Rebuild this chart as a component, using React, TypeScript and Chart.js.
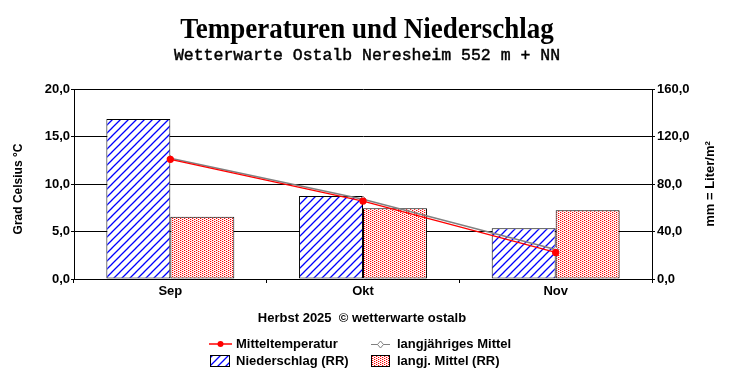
import React, { useEffect, useRef } from "react";
import { Chart, registerables } from "chart.js";

Chart.register(...registerables);

const categories = ["Sep", "Okt", "Nov"];
const tempMean = [12.6, 8.2, 2.8];
const tempLongTerm = [12.7, 8.4, 3.1];
const precip = [134.7, 69.9, 42.7];
const precipLongTerm = [52.5, 59.5, 57.8];

const titleText = "Temperaturen und Niederschlag";
const subtitleText = "Wetterwarte Ostalb Neresheim 552 m + NN";
const leftAxisTitle = "Grad Celsius °C";
const rightAxisTitle = "mm = Liter/m²";
const footText = "Herbst 2025  © wetterwarte ostalb";

const SANS = "'Liberation Sans', Arial, sans-serif";
const fmt = (v: number | string) => Number(v).toFixed(1).replace(".", ",");

function makeHatch(): CanvasPattern {
  const n = 8;
  const c = document.createElement("canvas");
  c.width = n;
  c.height = n;
  const g = c.getContext("2d")!;
  g.fillStyle = "#ffffff";
  g.fillRect(0, 0, n, n);
  g.strokeStyle = "#0000ff";
  g.lineWidth = 1.3;
  g.beginPath();
  g.moveTo(-1, n + 1);
  g.lineTo(n + 1, -1);
  g.moveTo(-n - 1, n + 1);
  g.lineTo(1, -1);
  g.moveTo(n - 1, n + 1);
  g.lineTo(2 * n + 1, -1);
  g.stroke();
  return g.createPattern(c, "repeat")!;
}

function makeDots(): CanvasPattern {
  const c = document.createElement("canvas");
  c.width = 4;
  c.height = 2;
  const g = c.getContext("2d")!;
  g.fillStyle = "#ffffff";
  g.fillRect(0, 0, 4, 2);
  g.fillStyle = "#ff0000";
  g.fillRect(0, 0, 1, 1);
  g.fillRect(2, 1, 1, 1);
  g.fillStyle = "rgba(255,0,0,0.25)";
  g.fillRect(1, 0, 1, 1);
  g.fillRect(3, 1, 1, 1);
  return g.createPattern(c, "repeat")!;
}

const decorPlugin = {
  id: "decor",
  afterDraw(chart: any) {
    const ctx: CanvasRenderingContext2D = chart.ctx;
    const ds = chart.data.datasets;
    ctx.save();
    ctx.fillStyle = "#000";
    ctx.textBaseline = "alphabetic";
    ctx.textAlign = "center";
    // title (condensed serif)
    ctx.save();
    ctx.translate(367, 38);
    ctx.scale(0.9, 1);
    ctx.font = "bold 30px 'Liberation Serif', 'Times New Roman', serif";
    ctx.fillText(titleText, 0, 0);
    ctx.restore();
    // subtitle
    ctx.font = "16.5px 'Liberation Mono', 'Courier New', monospace";
    ctx.strokeStyle = "#000";
    ctx.lineWidth = 0.45;
    ctx.fillText(subtitleText, 367, 60);
    ctx.strokeText(subtitleText, 367, 60);

    // axis titles
    ctx.textBaseline = "middle";
    ctx.save();
    ctx.translate(19, 189);
    ctx.rotate(-Math.PI / 2);
    ctx.font = "bold 12px " + SANS;
    ctx.fillText(leftAxisTitle, 0, 0);
    ctx.restore();
    ctx.save();
    ctx.translate(710, 184);
    ctx.rotate(-Math.PI / 2);
    ctx.font = "bold 13px " + SANS;
    ctx.fillText(rightAxisTitle, 0, 0);
    ctx.restore();

    // footnote
    ctx.font = "bold 13px " + SANS;
    ctx.fillText(footText, 362, 318);

    // legend
    ctx.textAlign = "left";
    const row1 = 344;
    const row2 = 361;
    // Mitteltemperatur
    ctx.strokeStyle = ds[0].borderColor;
    ctx.lineWidth = 1.5;
    ctx.beginPath();
    ctx.moveTo(209, row1);
    ctx.lineTo(232, row1);
    ctx.stroke();
    ctx.fillStyle = ds[0].borderColor;
    ctx.beginPath();
    ctx.arc(220.5, row1, 3, 0, Math.PI * 2);
    ctx.fill();
    ctx.fillStyle = "#000";
    ctx.fillText(ds[0].label, 236, row1);
    // langjähriges Mittel
    ctx.strokeStyle = ds[1].borderColor;
    ctx.lineWidth = 1;
    ctx.beginPath();
    ctx.moveTo(371, row1 + 0.5);
    ctx.lineTo(390, row1 + 0.5);
    ctx.stroke();
    ctx.fillStyle = "#fff";
    ctx.beginPath();
    ctx.moveTo(380.5, row1 - 3);
    ctx.lineTo(383.5, row1 + 0.5);
    ctx.lineTo(380.5, row1 + 4);
    ctx.lineTo(377.5, row1 + 0.5);
    ctx.closePath();
    ctx.fill();
    ctx.stroke();
    ctx.fillStyle = "#000";
    ctx.fillText(ds[1].label, 397, row1);
    // Niederschlag
    ctx.fillStyle = ds[2].backgroundColor;
    ctx.fillRect(210, 355, 20, 12);
    ctx.strokeStyle = "#000";
    ctx.lineWidth = 1;
    ctx.strokeRect(210.5, 355.5, 19, 11);
    ctx.fillStyle = "#000";
    ctx.fillText(ds[2].label, 236, row2);
    // langj. Mittel (RR)
    ctx.fillStyle = ds[3].backgroundColor;
    ctx.fillRect(371, 355, 19, 12);
    ctx.strokeRect(371.5, 355.5, 18, 11);
    ctx.fillStyle = "#000";
    ctx.fillText(ds[3].label, 397, row2);
    ctx.restore();
  },
};

export default function App() {
  const ref = useRef<HTMLCanvasElement>(null);
  useEffect(() => {
    document.body.style.margin = "0";
    const canvas = ref.current!;
    const hatch = makeHatch();
    const dots = makeDots();
    const tickFont = { family: SANS, size: 13, weight: "bold" as const };
    const chart = new Chart(canvas, {
      type: "bar",
      data: {
        labels: categories,
        datasets: [
          {
            type: "line",
            label: "Mitteltemperatur",
            data: tempMean,
            yAxisID: "y",
            borderColor: "#ff0000",
            backgroundColor: "#ff0000",
            borderWidth: 1.3,
            pointRadius: 3,
            pointBackgroundColor: "#ff0000",
            pointBorderColor: "#ff0000",
            tension: 0,
            order: 1,
          },
          {
            type: "line",
            label: "langjähriges Mittel",
            data: tempLongTerm,
            yAxisID: "y",
            borderColor: "#808080",
            backgroundColor: "#ffffff",
            borderWidth: 1.5,
            pointStyle: "rectRot",
            pointRadius: 3,
            pointBackgroundColor: "#ffffff",
            pointBorderColor: "#808080",
            pointBorderWidth: 1,
            tension: 0,
            order: 2,
          },
          {
            type: "bar",
            label: "Niederschlag (RR)",
            data: precip,
            yAxisID: "y1",
            backgroundColor: hatch as any,
            borderColor: "#000",
            borderWidth: 1,
            borderSkipped: false,
            barPercentage: 1,
            categoryPercentage: 0.664,
            order: 3,
          },
          {
            type: "bar",
            label: "langj. Mittel (RR)",
            data: precipLongTerm,
            yAxisID: "y1",
            backgroundColor: dots as any,
            borderColor: "#000",
            borderWidth: 1,
            borderSkipped: false,
            barPercentage: 1,
            categoryPercentage: 0.664,
            order: 3,
          },
        ],
      } as any,
      options: {
        responsive: false,
        animation: false,
        events: [],
        layout: { padding: { top: 89, left: 0, right: 0, bottom: 0 } },
        plugins: {
          legend: { display: false },
          title: { display: false },
          tooltip: { enabled: false },
        },
        scales: {
          x: {
            grid: { offset: true, drawOnChartArea: false, tickLength: 4, color: "#000" },
            border: { color: "#000", width: 1 },
            ticks: { color: "#000", font: tickFont, padding: 1 },
            afterFit: (s: any) => {
              s.height = 105;
            },
          },
          y: {
            position: "left",
            min: 0,
            max: 20,
            ticks: { stepSize: 5, color: "#000", font: tickFont, padding: 1, callback: (v: any) => fmt(v) },
            grid: { color: "#000", tickLength: 3, lineWidth: 1 },
            border: { color: "#000", width: 1 },
            afterFit: (s: any) => {
              s.width = 74;
            },
          },
          y1: {
            position: "right",
            min: 0,
            max: 160,
            ticks: { stepSize: 40, color: "#000", font: tickFont, padding: 2, callback: (v: any) => fmt(v) },
            grid: { drawOnChartArea: false, color: "#000", tickLength: 3 },
            border: { color: "#000", width: 1 },
            afterFit: (s: any) => {
              s.width = 80;
            },
          },
        },
      } as any,
      plugins: [decorPlugin],
    });
    return () => chart.destroy();
  }, []);
  return <canvas ref={ref} width={732} height={384} style={{ display: "block" }} />;
}
